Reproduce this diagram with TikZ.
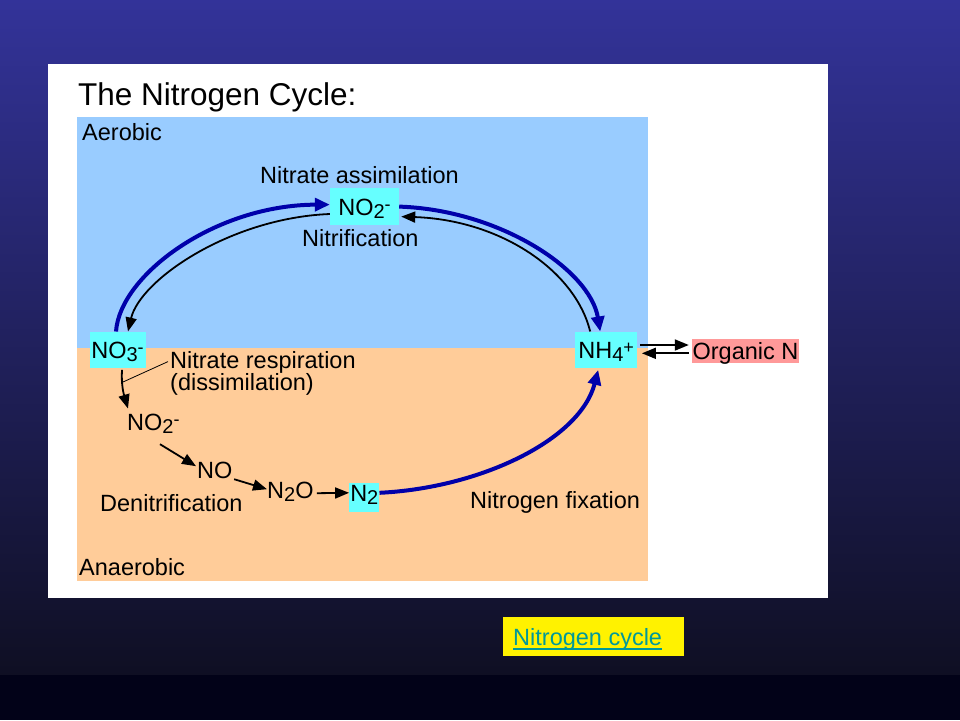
\documentclass[tikz,border=0pt]{standalone}
\usepackage{fontspec}
\setmainfont{Liberation Sans}
\usetikzlibrary{arrows.meta}
\definecolor{aerob}{RGB}{153,204,255}
\definecolor{anaerob}{RGB}{255,204,153}
\definecolor{ionbox}{RGB}{102,255,255}
\definecolor{orgbox}{RGB}{255,153,153}
\definecolor{cycblue}{RGB}{0,0,170}
\definecolor{slidetop}{RGB}{51,51,153}
\definecolor{slidebot}{RGB}{15,15,35}
\definecolor{slidefoot}{RGB}{2,2,24}
\definecolor{linkcol}{RGB}{0,153,153}
\newcommand\lo[1]{\raisebox{-3.5pt}{\fontsize{20}{20}\selectfont #1}}
\newcommand\hi[1]{\raisebox{5pt}{\fontsize{18}{18}\selectfont #1}}

\begin{document}
\begin{tikzpicture}[x=1pt,y=-1pt,font=\fontsize{23.5}{27}\selectfont,
  ion/.style={fill=ionbox,inner sep=0pt,text height=16.8pt,text depth=0pt},
  lbl/.style={anchor=base west,inner sep=0pt,text height=16.8pt,text depth=0pt},
  blu/.style={draw=cycblue,line width=4pt,-{Triangle[length=15pt,width=13pt]}},
  blk/.style={line width=1.8pt,-{Triangle[length=14pt,width=11pt]}}]
\useasboundingbox (0,0) rectangle (960,720);
\shade[top color=slidetop,bottom color=slidebot] (0,0) rectangle (960,675);
\fill[slidefoot] (0,675) rectangle (960,720);
\fill[white] (48,64) rectangle (828,598);
\fill[aerob] (77,117) rectangle (648,348);
\fill[anaerob] (77,348) rectangle (648,581);

\node[lbl,font=\fontsize{31.5}{36}\selectfont] (ttl) at (78,105) {The Nitrogen Cycle:};
\node[lbl] (aer) at (82,140) {Aerobic};
\node[lbl] (anaer) at (79,575) {Anaerobic};
\node[lbl] (assim) at (260,183) {Nitrate assimilation};
\node[lbl] (nitrif) at (302,246) {Nitrification};
\node[lbl] (resp) at (170,368) {Nitrate respiration};
\node[lbl] (dissim) at (170,390) {(dissimilation)};
\node[lbl] (denit) at (100,511) {Denitrification};
\node[lbl] (fix) at (470,508) {Nitrogen fixation};

\node[ion,minimum width=69pt,minimum height=37pt] (no2t) at (364.5,206.6) {NO\lo{2}\hi{-}};
\node[ion,minimum width=56pt,minimum height=36pt] (no3) at (117.5,349.7) {NO\lo{3}\hi{-}};
\node[ion,minimum width=62pt,minimum height=36pt] (nh4) at (606.2,349.7) {NH\lo{4}\hi{+}};
\node[ion,minimum width=30pt,minimum height=29pt,text depth=10pt] (n2) at (364.3,497.8) {N\lo{2}};
\node[fill=orgbox,inner sep=0pt,text height=16.8pt,text depth=0pt,minimum width=107pt,minimum height=24pt] (orgn) at (745.5,351.3) {Organic N};
\node[lbl] (no2p) at (127,430) {NO\lo{2}\hi{-}};
\node[lbl] (no) at (197,478) {NO};
\node[lbl] (n2o) at (267,498) {N\lo{2}O};

% assimilation and fixation
\draw[blu] ([xshift=-1.5pt]no3.north) .. controls (120,275) and (215,205) .. ([yshift=2pt]no2t.west);
\draw[blu] (no2t.east) .. controls (500,210) and (590,270) .. ([xshift=-6pt]nh4.north);
\draw[blu] ([yshift=5pt]n2.east) .. controls (480,488) and (580,440) .. ([xshift=-8pt,yshift=-2pt]nh4.south);
% nitrification
\draw[blk] ([xshift=-16pt]nh4.north) .. controls (575,270) and (500,220) .. ([xshift=2pt,yshift=-10pt]no2t.east);
\draw[blk] ([yshift=-7.4pt]no2t.west) .. controls (230,218) and (140,280) .. ([xshift=10.5pt]no3.north);
% denitrification
\draw[blk] ([xshift=4.5pt,yshift=-2pt]no3.south) .. controls (121,385) and (124,395) .. ([xshift=1pt,yshift=4.5pt]no2p.north west);
\coordinate (dis) at (123,382);
\draw[line width=0.8pt] (dis) -- ([xshift=-2pt,yshift=-2pt]resp.west);
\draw[blk] ([xshift=33pt,yshift=-14pt]no2p.south west) -- ([xshift=-1pt,yshift=12pt]no.south west);
\draw[blk] ([xshift=1.5pt,yshift=-1pt]no.south east) -- ([yshift=9pt]n2o.south west);
\draw[blk] ([xshift=3pt,yshift=5pt]n2o.south east) -- ([yshift=5pt]n2.west);
% organic N
\draw[blk] ([xshift=3pt,yshift=4.7pt]nh4.east) -- ([xshift=-3pt,yshift=6.3pt]orgn.west);
\draw[blk] ([xshift=-3pt,yshift=-2pt]orgn.west) -- ([xshift=4.5pt,yshift=-3.6pt]nh4.east);

\fill[yellow] (503,617) rectangle (684,656);
\node[lbl,text=linkcol] (lnk) at (513,645) {Nitrogen cycle};
\draw[linkcol,line width=2pt] ([yshift=-4pt]lnk.south west) -- ([yshift=-4pt]lnk.south east);
\end{tikzpicture}
\end{document}
